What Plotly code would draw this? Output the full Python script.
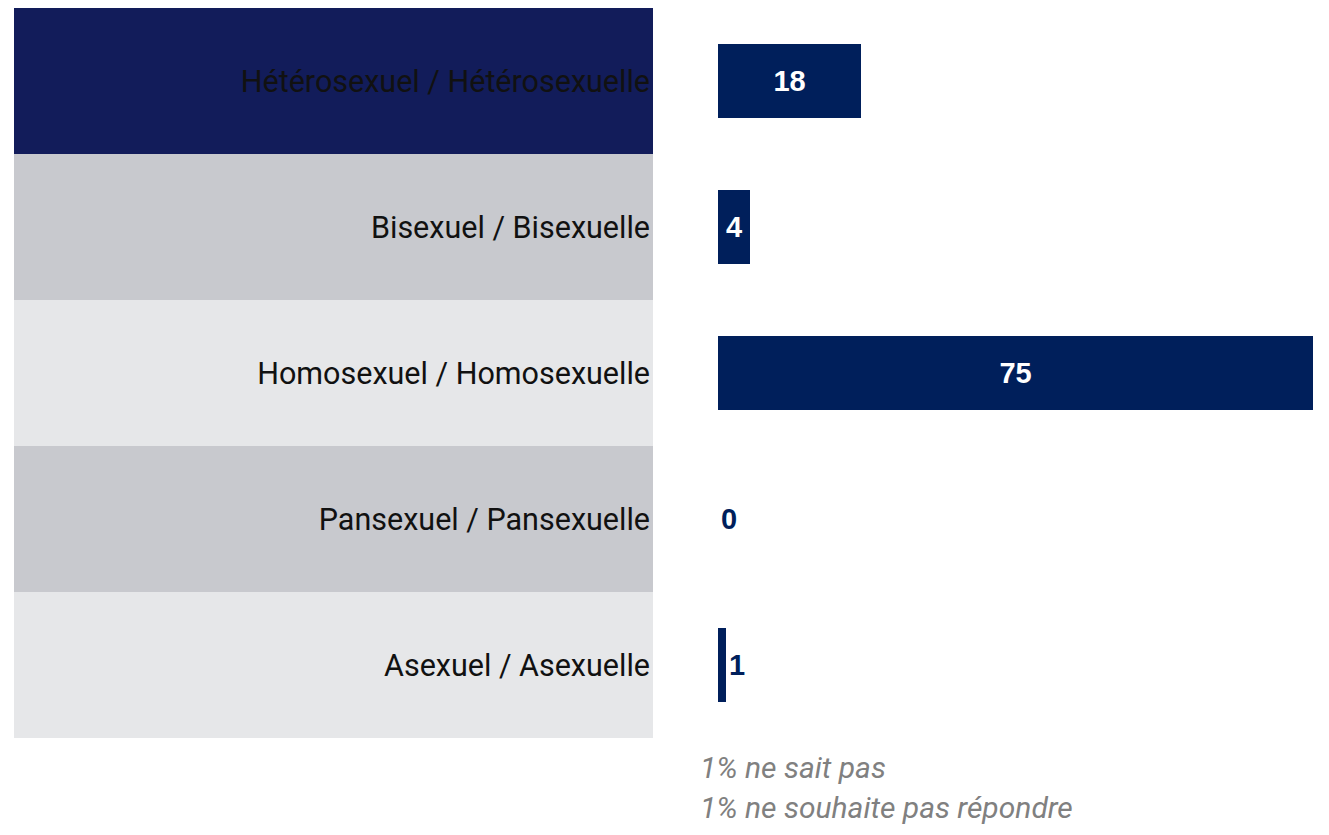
import plotly.graph_objects as go

categories = ["Hétérosexuel / Hétérosexuelle", "Bisexuel / Bisexuelle",
              "Homosexuel / Homosexuelle", "Pansexuel / Pansexuelle", "Asexuel / Asexuelle"]
values = [18, 4, 75, 0, 1]
band_colors = ["#121C5A", "#C8C9CE", "#E6E7E9", "#C8C9CE", "#E6E7E9"]
footnotes = ["1% ne sait pas", "1% ne souhaite pas répondre"]

NAVY = "#001F5B"
OFF = 8  # page body margin
W, H = 1329 - 2 * OFF, 835 - 2 * OFF


def px_x(x):
    return min(1.0, max(0.0, (x - OFF) / W))


def px_y(y):
    return min(1.0, max(0.0, (H - (y - OFF)) / H))


text_pos = ["inside" if v >= 3 else "outside" for v in values]

fig = go.Figure()
fig.add_trace(go.Bar(
    y=categories, x=[1] * len(categories), orientation="h",
    xaxis="x2", yaxis="y", width=1.0,
    marker=dict(color=band_colors, line=dict(width=0)),
    text=categories, textposition="inside", insidetextanchor="end",
    textfont=dict(family="Roboto", size=30.5, color="#111111"),
    hoverinfo="skip", showlegend=False,
))
fig.add_trace(go.Bar(
    y=categories, x=values, orientation="h",
    xaxis="x", yaxis="y", width=0.51,
    marker=dict(color=NAVY, line=dict(width=0)),
    text=[str(v) for v in values], textposition=text_pos,
    insidetextanchor="middle",
    insidetextfont=dict(family="Liberation Sans", size=29, color="white", weight="bold"),
    outsidetextfont=dict(family="Liberation Sans", size=29, color=NAVY, weight="bold"),
    cliponaxis=False, showlegend=False,
))

fig.update_layout(
    width=W, height=H,
    margin=dict(l=0, r=0, t=0, b=0),
    paper_bgcolor="white", plot_bgcolor="white",
    bargap=0,
    xaxis=dict(domain=[px_x(718), px_x(1313)], range=[0, 75], visible=False, fixedrange=True),
    xaxis2=dict(domain=[px_x(14), px_x(653)], range=[0, 1], visible=False, anchor="y"),
    yaxis=dict(domain=[px_y(738), px_y(5)], autorange="reversed", visible=False, type="category"),
)

for i, t in enumerate(footnotes):
    fig.add_annotation(
        xref="paper", yref="paper", x=px_x(698), y=px_y(767 + 40 * i),
        xanchor="left", yanchor="middle", showarrow=False,
        text=t, font=dict(family="Roboto", size=30, color="#808080", style="italic"),
    )

fig.write_html("out.html")
